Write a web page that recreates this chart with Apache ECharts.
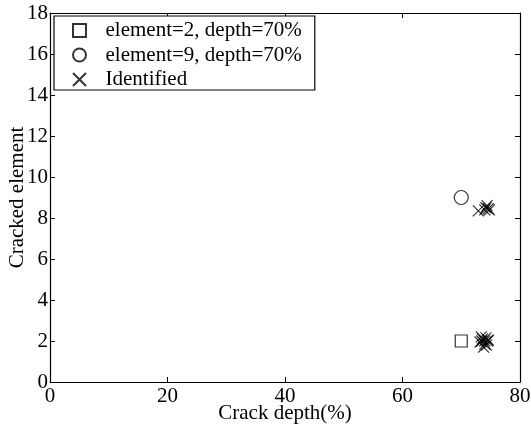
<!DOCTYPE html>
<html><head><meta charset="utf-8">
<script src="https://cdn.jsdelivr.net/npm/echarts@6/dist/echarts.min.js"></script>
<style>html,body{margin:0;padding:0;background:#fff}#c{width:531px;height:428px}</style>
</head><body><div id="c"></div>
<script>
var seriesNames = ['element=2, depth=70%', 'element=9, depth=70%', 'Identified'];
var actual2 = [[70, 2]];
var actual9 = [[70, 9]];
var identified = [
  [72.9, 8.35], [74.2, 8.5], [74.6, 8.45], [74.4, 8.6], [74.8, 8.4], [74.0, 8.4],
  [73.5, 2.0], [74.0, 2.0], [74.5, 2.0], [73.8, 1.7], [74.2, 2.15], [73.2, 1.95],
  [74.6, 2.05], [74.0, 1.85], [73.6, 2.1], [74.3, 1.8], [73.4, 2.2]
];
var xTicks = [0, 20, 40, 60, 80];
var yTicks = [0, 2, 4, 6, 8, 10, 12, 14, 16, 18];

var FONT = 'Liberation Serif';
var FS = 21;
var crossPath = 'path://M0,0L10,10M10,0L0,10';
var squarePath = 'path://M0,0L10,0L10,10L0,10Z';
var chart = echarts.init(document.getElementById('c'), null, {renderer: 'canvas'});
var axisCommon = {
  axisLine: {show: true, onZero: false, lineStyle: {color: '#000', width: 1.2}},
  axisTick: {show: true, inside: true, length: 5, lineStyle: {color: '#000'}},
  splitLine: {show: false}
};
chart.setOption({
  animation: false,
  backgroundColor: '#fff',
  grid: {left: 50, right: 11, top: 13, bottom: 46, containLabel: false, outerBoundsMode: 'none'},
  legend: {
    left: 54, top: 16,
    orient: 'vertical',
    data: seriesNames,
    backgroundColor: '#fff',
    borderColor: '#000', borderWidth: 1.2,
    padding: [4, 13, 0, 18],
    itemGap: 3.5, itemWidth: 42, itemHeight: 13,
    textStyle: {fontFamily: FONT, fontSize: FS, color: '#000'}
  },
  xAxis: [
    Object.assign({type: 'value', min: xTicks[0], max: xTicks[xTicks.length-1], interval: 20,
      name: 'Crack depth(%)', nameLocation: 'middle', nameGap: 21, nameMoveOverlap: false,
      nameTextStyle: {fontFamily: FONT, fontSize: FS, color: '#000'},
      axisLabel: {fontFamily: FONT, fontSize: FS, color: '#000', margin: 4}}, axisCommon),
    Object.assign({type: 'value', position: 'top', min: 0, max: 80, interval: 20,
      axisLabel: {show: false}}, axisCommon)
  ],
  yAxis: [
    Object.assign({type: 'value', min: yTicks[0], max: yTicks[yTicks.length-1], interval: 2,
      name: 'Cracked element', nameLocation: 'middle', nameGap: 22, nameMoveOverlap: false,
      nameTextStyle: {fontFamily: FONT, fontSize: FS, color: '#000'},
      axisLabel: {fontFamily: FONT, fontSize: FS, color: '#000', margin: 2}}, axisCommon),
    Object.assign({type: 'value', position: 'right', min: 0, max: 18, interval: 2,
      axisLabel: {show: false}}, axisCommon)
  ],
  series: [
    {name: seriesNames[0], type: 'scatter', data: actual2, symbol: squarePath, symbolSize: 12, symbolKeepAspect: true,
      itemStyle: {color: 'rgba(0,0,0,0)', borderColor: '#000', borderWidth: 1.2}},
    {name: seriesNames[1], type: 'scatter', data: actual9, symbol: 'circle', symbolSize: 14,
      itemStyle: {color: 'rgba(0,0,0,0)', borderColor: '#000', borderWidth: 1.2}},
    {name: seriesNames[2], type: 'scatter', data: identified, symbol: crossPath, symbolSize: 11, symbolKeepAspect: true,
      itemStyle: {color: 'rgba(0,0,0,0)', borderColor: '#000', borderWidth: 1.2}}
  ]
});
</script></body></html>
